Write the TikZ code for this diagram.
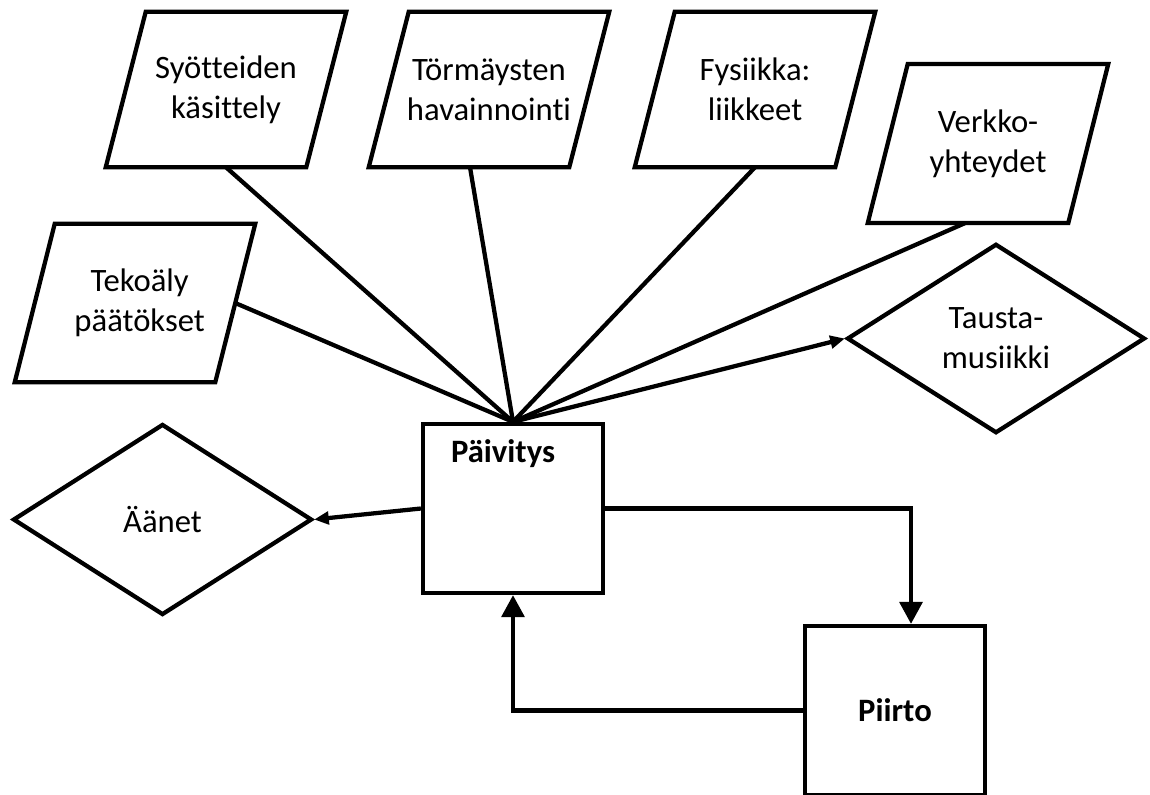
\documentclass[tikz,border=0pt]{standalone}
\usepackage{fontspec}
\setmainfont{Carlito}[Ligatures=NoCommon]
\usetikzlibrary{arrows.meta,shapes.geometric}
\newcommand\lblfont{\fontsize{24.5}{30}\selectfont}

\tikzset{
  shapeline/.style={line width=3.2pt, line join=miter},
  parabox/.style={shape=rectangle, inner sep=0pt, align=center, font=\lblfont,
    minimum width=180pt, minimum height=116.25pt,
    append after command={\pgfextra{\edef\pbname{\tikzlastnode}
      \draw[shapeline] ([xshift=30pt]\pbname.north west) -- (\pbname.north east)
        -- ([xshift=-30pt]\pbname.south east) -- (\pbname.south west) -- cycle;}}},
  decision/.style={shape=diamond, draw, shapeline, inner sep=0pt, align=center,
    font=\lblfont, minimum width=223.5pt, minimum height=142pt},
  procbox/.style={shape=rectangle, draw, shapeline, inner sep=0pt,
    minimum width=135pt, minimum height=126.75pt},
  conn/.style={line width=3.2pt},
  bigtip/.style={-{Triangle[length=16.5pt,width=17pt]}},
  smalltip/.style={-{Triangle[length=11pt,width=9.5pt]}},
}

\begin{document}
\begin{tikzpicture}[x=0.75pt,y=-0.75pt]
  \fill[white] (0,0) rectangle (1150,794);
  \useasboundingbox (0,0) rectangle (1150,794);

  % input-side tasks
  \node[parabox] (syo) at (226,89.5) {Syötteiden\\käsittely};
  \node[parabox] (tor) at (489,89.5) {Törmäysten\\havainnointi};
  \node[parabox] (fys) at (755,89.5) {Fysiikka:\\liikkeet};
  \node[parabox, minimum height=119pt] (ver) at (988,143.5) {Verkko-\\yhteydet};
  \node[parabox, minimum height=118.5pt] (tek) at (135,303)
    {\raisebox{6pt}{\hspace*{7pt}\begin{tabular}{@{}c@{}}Tekoäly\\päätökset\end{tabular}}};

  % outputs
  \node[decision] (taus) at (996,338.5) {Tausta-\\musiikki};
  \node[decision, minimum width=224.25pt, minimum height=143.25pt] (aan) at (162.5,519.5) {Äänet};

  % main loop
  \node[procbox, label={[font=\lblfont\bfseries, anchor=north, inner sep=0pt,
      xshift=-7.5pt, yshift=-13pt]north:Päivitys}] (paiv) at (513,508.5) {};
  \node[procbox, font=\lblfont\bfseries] (piirto) at (895,710.5) {Piirto};

  % connectors into the update step
  \draw[conn] (syo.south) -- (paiv.north);
  \draw[conn] ([xshift=-14.25pt]tor.south) -- (paiv.north);
  \draw[conn] (fys.south) -- (paiv.north);
  \draw[conn] ([xshift=-17.25pt]ver.south) -- (paiv.north);
  \draw[conn] ([xshift=-15pt]tek.east) -- (paiv.north);

  % outgoing arrows
  \draw[conn, smalltip] (paiv.north) -- (taus.west);
  \draw[conn, smalltip] (paiv.west) -- (aan.east);
  \draw[conn, bigtip] (paiv.east) -| ([xshift=12pt]piirto.north);
  \draw[conn, bigtip] (piirto.west) -| (paiv.south);
\end{tikzpicture}
\end{document}
